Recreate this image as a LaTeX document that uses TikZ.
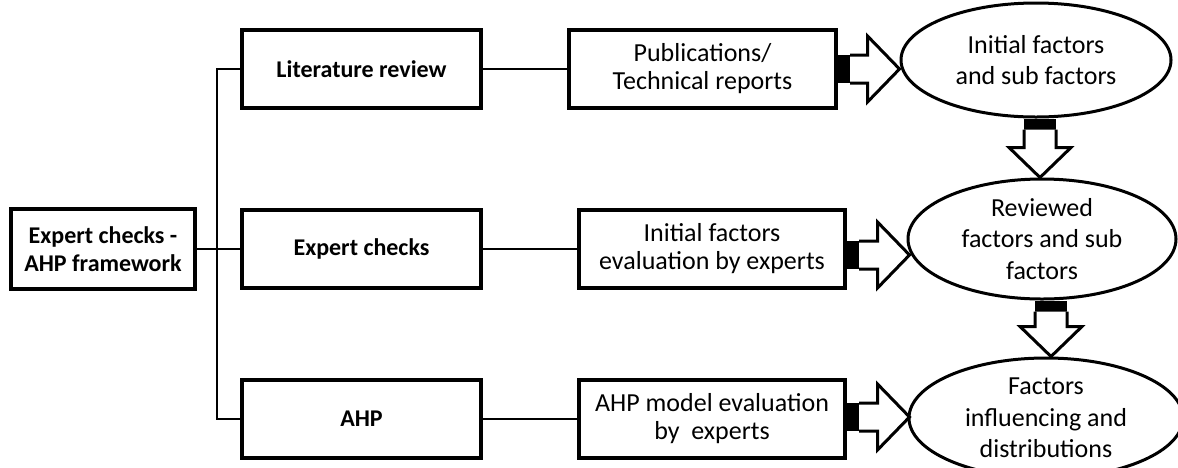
\documentclass[tikz,border=0pt]{standalone}
\usepackage{fontspec}
\setmainfont{Carlito}
\usetikzlibrary{calc,shapes.geometric,shadows}
\newcommand{\hblock}[2]{%
  \fill ($(#1)+(0,-14)$) rectangle ($(#1)+(12,14)$);
  \draw[blockarrow] ($(#1)+(12,-14)$) -- ($(#2)+(-32,-14)$) -- ($(#2)+(-32,-33)$) -- (#2)
     -- ($(#2)+(-32,33)$) -- ($(#2)+(-32,14)$) -- ($(#1)+(12,14)$);
}
\newcommand{\vblock}[2]{%
  \fill ($(#1)+(-16,0)$) rectangle ($(#1)+(16,11)$);
  \draw[blockarrow] ($(#1)+(-16,11)$) -- ($(#2)+(-16,-30)$) -- ($(#2)+(-31,-30)$) -- (#2)
     -- ($(#2)+(31,-30)$) -- ($(#2)+(16,-30)$) -- ($(#1)+(16,11)$);
}
\begin{document}
\begin{tikzpicture}[x=1pt,y=-1pt,
  box/.style={draw, line width=4pt, fill=white, minimum height=78pt, inner sep=2pt, align=center,
    font=\fontsize{26}{28}\selectfont,
    drop shadow={opacity=0.25, shadow xshift=1.5pt, shadow yshift=-1.5pt}},
  bbox/.style={box, font=\fontsize{24}{28}\selectfont\bfseries},
  oval/.style={draw, ellipse, line width=3pt, fill=white, inner sep=0pt, align=center,
    font=\fontsize{26}{31.5}\selectfont},
  link/.style={line width=2.5pt},
  blockarrow/.style={draw, line width=3pt, fill=white, line join=miter}]
\fill[white] (0,0) rectangle (1178,467);
\useasboundingbox (0,0) rectangle (1178,467);

\node[bbox, minimum width=184pt, minimum height=80pt] (L) at (103,249) {Expert checks -\\AHP framework};
\node[bbox, minimum width=239pt] (M1) at (361.5,69) {Literature review};
\node[bbox, minimum width=239pt] (M2) at (361.5,249) {Expert checks};
\node[bbox, minimum width=239pt] (M3) at (361.5,419) {AHP};
\node[box, minimum width=267pt] (R1) at (702.5,69) {Publications/\\Technical reports};
\node[box, minimum width=266pt] (R2) at (712,249) {Initial factors\\evaluation by experts};
\node[box, minimum width=266pt] (R3) at (712,419) {AHP model evaluation\\by\ \ experts};

\node[oval, minimum width=270pt, minimum height=114pt] (E1) at (1036,60) {Initial factors\\and sub factors};
\node[oval, minimum width=268pt, minimum height=120pt] (E2) at (1042,239) {Reviewed\\factors and sub\\factors};
\node[oval, minimum width=274pt, minimum height=120pt] (E3) at (1046,418) {Factors\\influencing and\\distributions};

\draw[link] (L.east) -- (M2.west);
\draw[link] (M1.west) -- ($(M1.west)+(-23,0)$) |- (M3.west);
\draw[link] (M1.east) -- (R1.west);
\draw[link] (M2.east) -- (R2.west);
\draw[link] (M3.east) -- (R3.west);

\coordinate (a1) at (R1.east);
\coordinate (t1) at (a1 -| E1.west);
\hblock{a1}{t1}
\coordinate (a2) at ($(R2.east)+(0,6)$);
\coordinate (t2) at ($(a2 -| E2.west)+(3,0)$);
\hblock{a2}{t2}
\coordinate (a3) at ($(R3.east)+(0,-2)$);
\coordinate (t3) at ($(a3 -| E3.west)+(2,0)$);
\hblock{a3}{t3}

\coordinate (b1) at ($(E1.south)+(4,0)$);
\coordinate (u1) at (b1 |- E2.north);
\vblock{b1}{u1}
\coordinate (b2) at ($(E2.south)+(9,0)$);
\coordinate (u2) at (b2 |- E3.north);
\vblock{b2}{u2}
\end{tikzpicture}
\end{document}
